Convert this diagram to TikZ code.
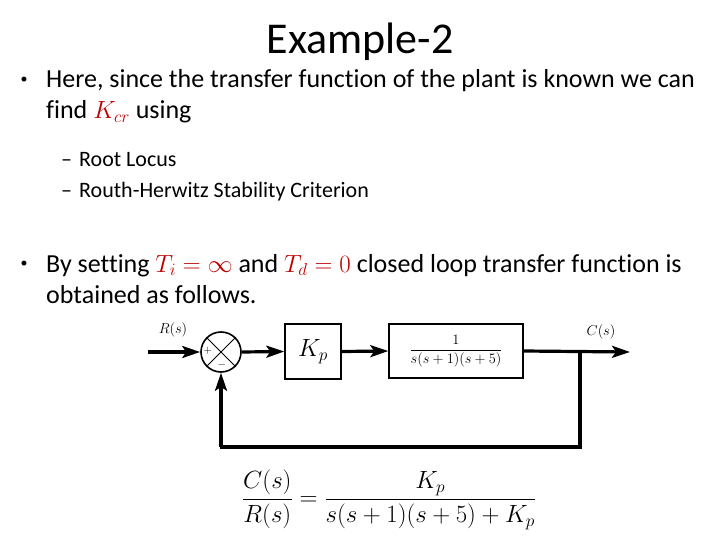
\documentclass[tikz,border=0pt]{standalone}
\usepackage{amsmath}
\usepackage{fontspec}
\setmainfont{Carlito}[Ligatures=NoCommon]
\usetikzlibrary{arrows.meta,calc}
\definecolor{slidered}{RGB}{192,0,0}
\tikzset{
  txt/.style={anchor=base west, inner sep=0pt, font=\fontsize{26}{31}\selectfont},
  subtxt/.style={anchor=base west, inner sep=0pt, font=\fontsize{22}{26}\selectfont},
  dotmark/.style={anchor=center, inner sep=0pt, font=\fontsize{14}{14}\selectfont},
  blockbox/.style={draw, line width=1.4pt, inner sep=0pt},
  signal/.style={line width=3.2pt},
  sig/.style={signal, -{Stealth[length=18pt,width=12pt,inset=4pt]}},
}
\begin{document}
\begin{tikzpicture}[x=1pt,y=-1pt]
  \useasboundingbox (0,0) rectangle (720,540);
  % Title
  \node[anchor=base, inner sep=0pt, font=\fontsize{44}{50}\selectfont] (title) at (360,54) {Example-2};
  % First bullet
  \node[dotmark] (dotA) at (24,80) {\textbullet};
  \node[txt] (lineA) at (46,88) {Here, since the transfer function of the plant is known we can};
  \node[txt] (lineB) at (46,119) {find {\color{slidered}$K_{cr}$} using};
  \node[subtxt] (dashA) at (61,167) {--};
  \node[subtxt] (subA) at (79,167) {Root Locus};
  \node[subtxt] (dashB) at (61,198) {--};
  \node[subtxt] (subB) at (79,198) {Routh-Herwitz Stability Criterion};
  % Second bullet
  \node[dotmark] (dotB) at (24,264) {\textbullet};
  \node[txt] (lineC) at (46,272) {By setting {\color{slidered}$T_i=\infty$} and {\color{slidered}$T_d=0$} closed loop transfer function is};
  \node[txt] (lineD) at (46,303) {obtained as follows.};
  % Block diagram
  \coordinate (in) at (148,352);
  \node[draw, circle, line width=1.6pt, minimum size=40pt, inner sep=0pt] (sum) at (221,352) {};
  \draw[line width=1pt] (sum.north west) -- (sum.south east) (sum.north east) -- (sum.south west);
  \node[font=\fontsize{11}{11}\selectfont] (plus) at (208,351) {$+$};
  \node[font=\fontsize{11}{11}\selectfont] (minus) at (222,365) {$-$};
  \node[blockbox, minimum width=56pt, minimum height=55pt, font=\fontsize{23}{23}\selectfont] (kp) at (313,351.5) {$K_p$};
  \node[blockbox, minimum width=134pt, minimum height=54pt, font=\fontsize{14.5}{14.5}\selectfont] (plant) at (456,351) {$\dfrac{1}{s(s+1)(s+5)}$};
  \coordinate (branch) at (580,352);
  \coordinate (out) at (630,352);
  \draw[sig] (in) -- (sum.west);
  \draw[sig] (sum.east) -- (kp.west);
  \draw[sig] (kp.east) -- (plant.west);
  \draw[sig] (plant.east) -- (out);
  \draw[sig] (branch) |- (220,447) -| (sum.south);
  \node[font=\fontsize{15}{15}\selectfont] (rlabel) at (173,330) {$R(s)$};
  \node[font=\fontsize{15}{15}\selectfont] (clabel) at (601,332) {$C(s)$};
  % Closed loop transfer function
  \node[font=\fontsize{26}{30}\selectfont] (eqn) at (389,500) {$\dfrac{C(s)}{R(s)}=\dfrac{K_p}{s(s+1)(s+5)+K_p}$};
\end{tikzpicture}
\end{document}
